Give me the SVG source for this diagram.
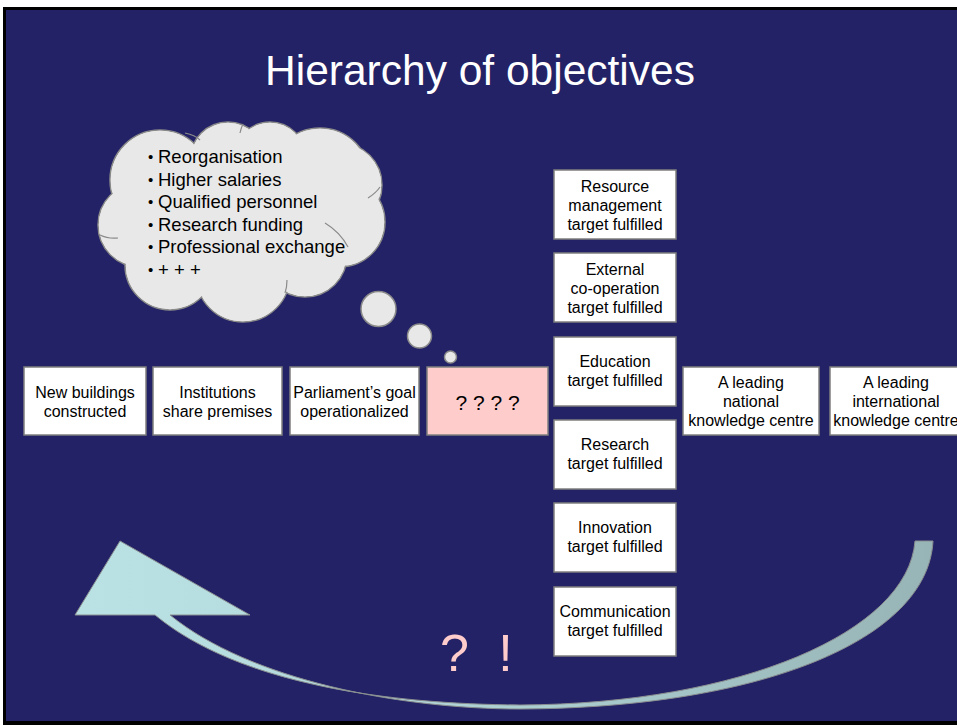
<svg xmlns="http://www.w3.org/2000/svg" width="957" height="725" viewBox="0 0 957 725">
<defs>
<style>
.box{fill:#ffffff;stroke:#7f7f7f;stroke-width:1.5}
.pink{fill:#ffcccc;stroke:#7f7f7f;stroke-width:1.5}
.lbl{font-family:"Liberation Sans",Arial,sans-serif;font-size:16px;fill:#000;text-anchor:middle}
.cl{font-family:"Liberation Sans",Arial,sans-serif;font-size:18.5px;fill:#000}
.bul{font-size:15px}
.cloudS{fill:#e8e8e8;stroke:#8a8a8a;stroke-width:1.5}
.cloudF{fill:#e8e8e8;stroke:none}
</style>
<linearGradient id="arrowGrad" gradientUnits="userSpaceOnUse" x1="75" y1="0" x2="933" y2="0">
<stop offset="0" stop-color="#bae2e5"/>
<stop offset="0.35" stop-color="#b3d8db"/>
<stop offset="1" stop-color="#97b4b6"/>
</linearGradient>
</defs>
<rect x="0" y="0" width="957" height="725" fill="#ffffff"/>
<rect x="3" y="7" width="960" height="718" fill="#000000"/>
<rect x="6" y="10" width="960" height="711" fill="#232266"/>

<text x="480" y="85" font-family="'Liberation Sans',Arial,sans-serif" font-size="42.5" fill="#ffffff" text-anchor="middle">Hierarchy of objectives</text>

<g id="cloud">
<circle class="cloudS" cx="160" cy="180" r="50"/>
<circle class="cloudS" cx="228" cy="160" r="38"/>
<circle class="cloudS" cx="270" cy="158" r="36"/>
<circle class="cloudS" cx="320" cy="178" r="50"/>
<circle class="cloudS" cx="340" cy="185" r="42"/>
<circle class="cloudS" cx="340" cy="222" r="45"/>
<circle class="cloudS" cx="305" cy="255" r="42"/>
<circle class="cloudS" cx="243" cy="275" r="47"/>
<circle class="cloudS" cx="170" cy="265" r="45"/>
<circle class="cloudS" cx="140" cy="225" r="42"/>
<circle class="cloudF" cx="160" cy="180" r="49.2"/>
<circle class="cloudF" cx="228" cy="160" r="37.2"/>
<circle class="cloudF" cx="270" cy="158" r="35.2"/>
<circle class="cloudF" cx="320" cy="178" r="49.2"/>
<circle class="cloudF" cx="340" cy="185" r="41.2"/>
<circle class="cloudF" cx="340" cy="222" r="44.2"/>
<circle class="cloudF" cx="305" cy="255" r="41.2"/>
<circle class="cloudF" cx="243" cy="275" r="46.2"/>
<circle class="cloudF" cx="170" cy="265" r="44.2"/>
<circle class="cloudF" cx="140" cy="225" r="41.2"/>
<ellipse class="cloudF" cx="240" cy="215" rx="110" ry="75"/>
<path d="M100,235 Q108,239 118,238 M368,198 Q376,193 380,187 M325,223 Q340,232 348,247 M287,280 Q287,287 285,293 M240,133 Q241,128 243,124 M185,133 Q195,135 200,140" fill="none" stroke="#8a8a8a" stroke-width="1.2"/>
<text class="cl"><tspan class="bul" x="148" y="162">•</tspan><tspan x="158" y="163">Reorganisation</tspan></text>
<text class="cl"><tspan class="bul" x="148" y="184.5">•</tspan><tspan x="158" y="185.5">Higher salaries</tspan></text>
<text class="cl"><tspan class="bul" x="148" y="207">•</tspan><tspan x="158" y="208">Qualified personnel</tspan></text>
<text class="cl"><tspan class="bul" x="148" y="229.5">•</tspan><tspan x="158" y="230.5">Research funding</tspan></text>
<text class="cl"><tspan class="bul" x="148" y="252">•</tspan><tspan x="158" y="253">Professional exchange</tspan></text>
<text class="cl"><tspan class="bul" x="148" y="274.5">•</tspan><tspan x="158" y="275.5">+ + +</tspan></text>
<circle class="cloudS" cx="378.5" cy="309" r="17.5"/>
<circle class="cloudS" cx="419.5" cy="336" r="12"/>
<circle class="cloudS" cx="450.5" cy="357" r="6"/>
</g>

<g id="connectors">
<path d="M120,541 L75,615 L155,615 C240,685 390,704 520,705 C740,704 908,632 915,541 L933,541 C928,640 760,708 520,709 C400,709 250,680 170,615 L250,615 Z" fill="url(#arrowGrad)" stroke="#8a8f90" stroke-width="1"/>
</g>

<g id="n1"><rect class="box" x="24" y="367" width="122" height="68"/>
<text class="lbl" x="85" y="397.5">New buildings</text><text class="lbl" x="85" y="416.5">constructed</text></g>
<g id="n2"><rect class="box" x="153" y="367" width="129" height="68"/>
<text class="lbl" x="217.5" y="397.5">Institutions</text><text class="lbl" x="217.5" y="416.5">share premises</text></g>
<g id="n3"><rect class="box" x="290" y="367" width="129" height="68"/>
<text class="lbl" x="354.5" y="397.5">Parliament’s goal</text><text class="lbl" x="354.5" y="416.5">operationalized</text></g>
<g id="n4"><rect class="pink" x="427" y="367" width="121" height="68"/>
<text class="lbl" x="487.5" y="410" style="font-size:21px">? ? ? ?</text></g>

<g id="c1"><rect class="box" x="554" y="170" width="122" height="69"/>
<text class="lbl" x="615" y="192">Resource</text><text class="lbl" x="615" y="211">management</text><text class="lbl" x="615" y="230">target fulfilled</text></g>
<g id="c2"><rect class="box" x="554" y="253" width="122" height="69"/>
<text class="lbl" x="615" y="275">External</text><text class="lbl" x="615" y="294">co-operation</text><text class="lbl" x="615" y="313">target fulfilled</text></g>
<g id="c3"><rect class="box" x="554" y="337" width="122" height="69"/>
<text class="lbl" x="615" y="367">Education</text><text class="lbl" x="615" y="386">target fulfilled</text></g>
<g id="c4"><rect class="box" x="554" y="420" width="122" height="69"/>
<text class="lbl" x="615" y="450">Research</text><text class="lbl" x="615" y="469">target fulfilled</text></g>
<g id="c5"><rect class="box" x="554" y="503" width="122" height="69"/>
<text class="lbl" x="615" y="533">Innovation</text><text class="lbl" x="615" y="552">target fulfilled</text></g>
<g id="c6"><rect class="box" x="554" y="587" width="122" height="69"/>
<text class="lbl" x="615" y="617">Communication</text><text class="lbl" x="615" y="636">target fulfilled</text></g>

<g id="n5"><rect class="box" x="683" y="367" width="136" height="68"/>
<text class="lbl" x="751" y="388">A leading</text><text class="lbl" x="751" y="407">national</text><text class="lbl" x="751" y="426">knowledge centre</text></g>
<g id="n6"><rect class="box" x="830" y="367" width="132" height="68"/>
<text class="lbl" x="896" y="388">A leading</text><text class="lbl" x="896" y="407">international</text><text class="lbl" x="896" y="426">knowledge centre</text></g>

<text x="440" y="671" font-family="'Liberation Sans',Arial,sans-serif" font-size="52" fill="#ffcccc" word-spacing="15">? !</text>
</svg>
